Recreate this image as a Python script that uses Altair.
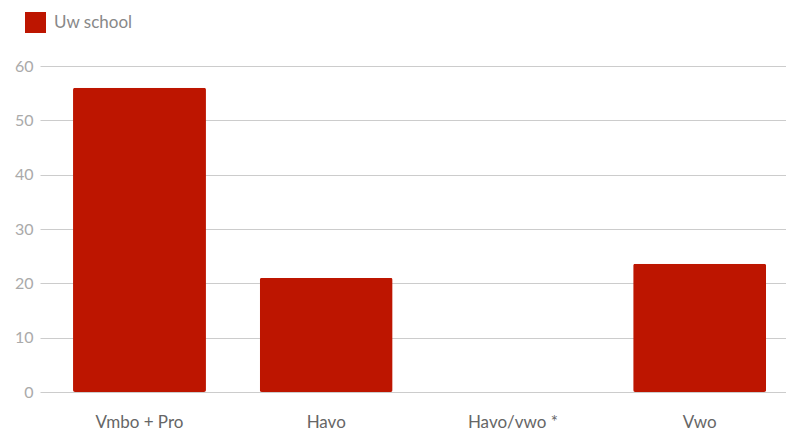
import altair as alt
import pandas as pd

categories = ["Vmbo + Pro", "Havo", "Havo/vwo *", "Vwo"]
values = [56, 21, 0, 23.6]
series = ["Uw school"] * 4

df = pd.DataFrame({"cat": categories, "val": values, "series": series})

FONT = "Lato"

chart = alt.Chart(df).mark_bar(cornerRadius=2).encode(
    x=alt.X("cat:N", sort=categories, title=None,
            scale=alt.Scale(paddingInner=0.288, paddingOuter=0.1417, align=0.624),
            axis=alt.Axis(labelAngle=0, labelFontSize=17, labelColor="#666666",
                          labelFont=FONT, labelPadding=22, domain=False, ticks=False,
                          grid=False)),
    y=alt.Y("val:Q", title=None,
            scale=alt.Scale(domain=[0, 60]),
            axis=alt.Axis(values=[0, 10, 20, 30, 40, 50, 60], labelFontSize=16,
                          labelColor="#aaaaaa", labelFont=FONT, labelPadding=7,
                          domain=False, ticks=False, gridColor="#cccccc",
                          gridWidth=1)),
    color=alt.Color("series:N", scale=alt.Scale(range=["#bd1500"]),
                    legend=alt.Legend(title=None, orient="none", legendX=-15, legendY=-54,
                                      symbolType="square", symbolSize=441,
                                      symbolStrokeWidth=0, symbolOpacity=1,
                                      labelFontSize=17, labelColor="#888888",
                                      labelFont=FONT, padding=0, labelOffset=8)),
).properties(
    width=746, height=326,
    autosize=alt.AutoSizeParams(type="none"),
    padding={"left": 32, "top": 58, "right": 0, "bottom": 42},
).configure_view(stroke=None)

chart.save("out.html", embed_options={"renderer": "svg", "actions": False})
